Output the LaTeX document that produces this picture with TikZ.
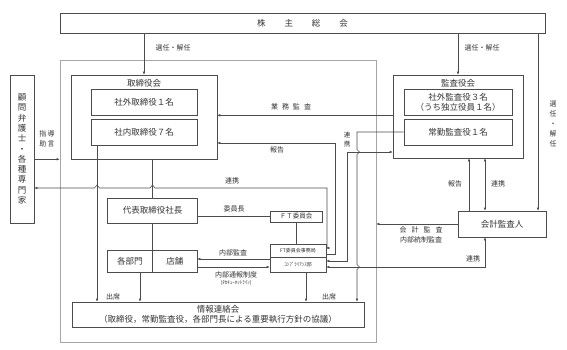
\documentclass[tikz,border=0pt]{standalone}
\usepackage{fontspec}
\setmainfont{Noto Sans CJK JP}
\usetikzlibrary{arrows.meta}
\newcommand{\fmain}{\fontsize{8.5pt}{10.3pt}\selectfont}
\newcommand{\flab}{\fontsize{7pt}{10pt}\selectfont}
\newcommand{\fsm}{\fontsize{6.5pt}{9pt}\selectfont}
\newcommand{\ftiny}{\fontsize{5pt}{6pt}\selectfont}
\tikzset{
  blk/.style={draw=black!70,line width=0.55pt,inner sep=0pt,align=center,font=\fmain,text=black!80},
  frame/.style={draw=black!35,line width=0.6pt,inner sep=0pt},
  lnk/.style={draw=black!70,line width=0.55pt},
  arr/.style={lnk,-{Latex[length=3pt,width=2.6pt]}},
  arrs/.style={lnk,{Latex[length=3pt,width=2.6pt]}-{Latex[length=3pt,width=2.6pt]}},
  lbl/.style={font=\flab,inner sep=0pt,align=center,text=black!80},
}

\begin{document}
\begin{tikzpicture}[x=1pt,y=-1pt]
\useasboundingbox (0,0) rectangle (567,350);
% general meeting and the company frame
\node[blk,minimum width=485pt,minimum height=20pt] (gm) at (302.5,23) {株\hspace{19pt}主\hspace{19pt}総\hspace{19pt}会};
\node[frame,minimum width=316pt,minimum height=282pt] (corp) at (218,201) {};
% board of directors
\node[blk,minimum width=146pt,minimum height=84pt] (bod) at (144,117) {};
\node[lbl,font=\fmain] (bodt) at (144,83) {取締役会};
\node[blk,minimum width=106pt,minimum height=26pt] (bodout) at (144,102) {社外取締役１名};
\node[blk,minimum width=106pt,minimum height=26pt] (bodin) at (144,132) {社内取締役７名};
% audit board
\node[blk,minimum width=130pt,minimum height=83pt] (ac) at (458,116.5) {};
\node[lbl,font=\fmain] (act) at (458,83) {監査役会};
\node[blk,minimum width=108pt,minimum height=26pt] (acout) at (458,102) {社外監査役３名\\（うち独立役員１名）};
\node[blk,minimum width=108pt,minimum height=26pt] (acfull) at (458,132) {常勤監査役１名};
\node[blk,minimum width=88pt,minimum height=26pt] (aud) at (502,224) {会計監査人};
% advisers
\node[blk,minimum width=24pt,minimum height=148pt] (adv) at (22,149) {顧\\問\\弁\\護\\士\\・\\各\\種\\専\\門\\家};
% executive side
\node[blk,minimum width=90pt,minimum height=25pt] (ceo) at (152.5,210.5) {代表取締役社長};
\node[blk,minimum width=45.5pt,minimum height=22pt] (dept) at (129.75,261) {各部門};
\node[blk,minimum width=44.5pt,minimum height=22pt] (shop) at (174.75,261) {店舗};
\node[blk,font=\fsm,minimum width=52pt,minimum height=11pt] (ft) at (296,216.5) {ＦＴ委員会};
\node[blk,font=\ftiny,minimum width=56pt,minimum height=13pt] (sec) at (298,250.5) {FT委員会事務局};
\node[blk,font=\ftiny,minimum width=56pt,minimum height=15pt] (comp) at (298,264.5) {ｺﾝﾌﾟﾗｲｱﾝｽ部};
\node[blk,minimum width=292pt,minimum height=25pt] (info) at (218,314.5) {情報連絡会\\（取締役，常勤監査役，各部門長による重要執行方針の協議）};
% appointment
\coordinate (gmr) at (538,0);
\draw[arr] (bod.north |- gm.south) -- (bod.north);
\draw[arr] (ac.north |- gm.south) -- (ac.north);
\draw[arr] (gmr |- gm.south) -- (gmr |- aud.north);
\node[lbl] (ap1) at (173,48) {選任・解任};
\node[lbl] (ap2) at (482,48) {選任・解任};
\node[lbl] (ap3) at (553,124) {選\\任\\・\\解\\任};
% advisers
\draw[arr] (adv.east |- bod.south) -- (corp.west |- bod.south);
\node[lbl] (advl) at (47,139) {指\,導\\助\,言};
\draw[arrs] (sec.east |- 0,248) -- (327,248) -- (327,188) -- (155,188) -- (152.5,185) -- (150,188) -- (99.5,188) -- (97,185) -- (94.5,188) -- (adv.east |- 0,188);
\node[lbl] (coopl) at (232,181) {連携};
% audit lines
\draw[arr] (ac.west |- bodout.south) -- (bod.east |- bodout.south);
\node[lbl] (auditl) at (291,107) {業\hspace{4pt}務\hspace{4pt}監\hspace{4pt}査};
\draw[arr] (sec.east |- 0,254) -- (335,254) -- (335,143) -- (bod.east |- 0,143);
\node[lbl] (repl) at (277,150) {報告};
\draw[arrs] (comp.east |- 0,261) -- (347,261) -- (347,152) -- (ac.west |- 0,152);
\node[lbl,font=\fsm] (coop2) at (347,139.5) {連\\携};
\draw[arr] (acfull.west) -- (357,132) -- (357,149.5) -- (359.5,152) -- (357,154.5) -- (357,264.5) -- (359.5,267) -- (357,269.5) -- (357,0 |- info.north);
% accounting auditor
\draw[arr] (469,0 |- aud.north) -- (469,0 |- ac.south);
\draw[arrs] (485,0 |- aud.north) -- (485,0 |- ac.south);
\node[lbl] (repl2) at (455,184) {報告};
\node[lbl] (coop3) at (498,184) {連携};
\draw[arr] (aud.west) -- (corp.east |- aud.west);
\node[lbl] (accl) at (421,235) {会\hspace{5pt}計\hspace{5pt}監\hspace{5pt}査\\内部統制監査};
\draw[arrs] (comp.east |- 0,267) -- (485,267) -- (485,0 |- aud.south);
\node[lbl] (coop4) at (473,259) {連携};
% president, committee and departments
\draw[lnk] (ceo.north |- bod.south) -- (ceo.north);
\draw[lnk] (ceo.south) -- (ceo.south |- dept.north);
\draw[lnk] (ceo.east |- ft.west) -- (ft.west);
\node[lbl] (chairl) at (234,209) {委員長};
\draw[lnk] (ft.south) -- (ft.south |- sec.north);
\draw[arr] (comp.west |- 0,259) -- (shop.east |- 0,259);
\node[lbl] (iauditl) at (233,253) {内部監査};
\draw[arr] (shop.east |- 0,267) -- (comp.west |- 0,267);
\node[lbl] (hotl) at (236,275) {内部通報制度};
\node[lbl,font=\ftiny] (hotl2) at (236,283) {(ﾀｶｷｭｰﾎｯﾄﾗｲﾝ)};
% attendance
\draw[arr] (97,0 |- bodin.south) -- (97,0 |- info.north);
\draw[arr] (140,0 |- dept.south) -- (140,0 |- info.north);
\draw[arr] (306,0 |- comp.south) -- (306,0 |- info.north);
\node[lbl] (attl1) at (113,297) {出席};
\node[lbl] (attl2) at (329,297) {出席};
\end{tikzpicture}
\end{document}
